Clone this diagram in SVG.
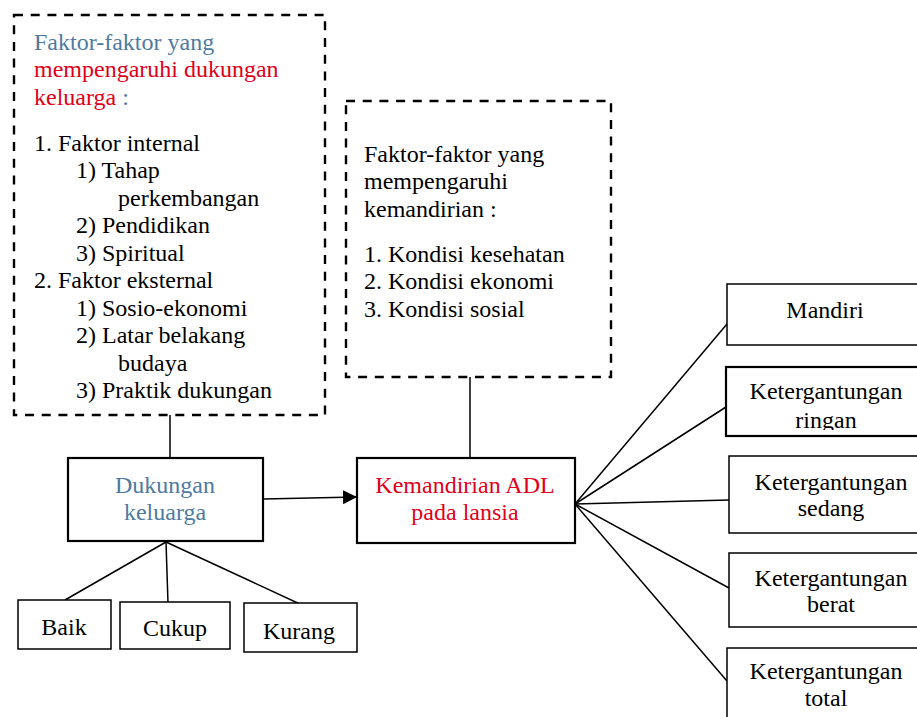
<svg xmlns="http://www.w3.org/2000/svg" width="917" height="717" viewBox="0 0 917 717">
<style>
text{font-family:"Liberation Serif","Times New Roman",serif;font-size:24px;fill:#000}
.c{text-anchor:middle}
.blue{fill:#4f7aa0}
.red{fill:#e0001b}
.dash{fill:none;stroke:#000;stroke-width:2.4;stroke-dasharray:9,7.7}
.box{fill:#fff;stroke:#000;stroke-width:1.5}
.bold{fill:#fff;stroke:#000;stroke-width:2.2}
.ln{stroke:#000;stroke-width:1.5;fill:none}
</style>
<defs>
<marker id="arr" markerWidth="14" markerHeight="14" refX="13" refY="7" orient="auto" markerUnits="userSpaceOnUse">
<path d="M0,0 L14,7 L0,14 Z" fill="#000"/>
</marker>
<clipPath id="ringClip"><rect x="726" y="367" width="200" height="63"/></clipPath>
</defs>
<rect width="917" height="717" fill="#fff"/>
<g id="connectors">
<line class="ln" x1="170" y1="415" x2="170" y2="458"/>
<line class="ln" x1="470" y1="377" x2="470" y2="458"/>
<line class="ln" x1="264" y1="499" x2="356" y2="497" marker-end="url(#arr)"/>
<line class="ln" x1="166" y1="542" x2="65" y2="600"/>
<line class="ln" x1="166" y1="542" x2="168" y2="603"/>
<line class="ln" x1="166" y1="542" x2="302" y2="605"/>
<line class="ln" x1="575" y1="504" x2="727" y2="324"/>
<line class="ln" x1="575" y1="504" x2="726" y2="407"/>
<line class="ln" x1="575" y1="504" x2="729" y2="500"/>
<line class="ln" x1="575" y1="504" x2="729" y2="588"/>
<line class="ln" x1="575" y1="504" x2="727" y2="681"/>
</g>
<g id="faktor-dukungan">
<rect class="dash" x="14" y="15" width="311" height="400"/>
<text x="34" y="49.5" class="blue">Faktor-faktor yang</text>
<text x="34" y="77" class="red">mempengaruhi dukungan</text>
<text x="34" y="104.5"><tspan class="red">keluarga</tspan><tspan class="blue"> :</tspan></text>
<text x="34" y="150.5">1. Faktor internal</text>
<text x="76" y="178">1) Tahap</text>
<text x="118" y="205.5">perkembangan</text>
<text x="76" y="233">2) Pendidikan</text>
<text x="76" y="260.5">3) Spiritual</text>
<text x="34" y="288">2. Faktor eksternal</text>
<text x="76" y="315.5">1) Sosio-ekonomi</text>
<text x="76" y="343">2) Latar belakang</text>
<text x="118" y="370.5">budaya</text>
<text x="76" y="398">3) Praktik dukungan</text>
</g>
<g id="faktor-kemandirian">
<rect class="dash" x="346" y="101" width="265" height="276"/>
<text x="364" y="161.5">Faktor-faktor yang</text>
<text x="364" y="189">mempengaruhi</text>
<text x="364" y="216.5">kemandirian :</text>
<text x="364" y="261.5">1. Kondisi kesehatan</text>
<text x="364" y="289">2. Kondisi ekonomi</text>
<text x="364" y="316.5">3. Kondisi sosial</text>
</g>
<g id="dukungan">
<rect class="bold" x="68" y="458" width="195" height="83"/>
<text x="165" y="493" class="c blue">Dukungan</text>
<text x="165" y="519.5" class="c blue">keluarga</text>
</g>
<g id="kemandirian">
<rect class="bold" x="357" y="458" width="218" height="85"/>
<text x="465" y="493" class="c red">Kemandirian ADL</text>
<text x="465" y="519.5" class="c red">pada lansia</text>
</g>
<g id="baik">
<rect class="box" x="18" y="600" width="93" height="49"/>
<text x="64" y="635" class="c">Baik</text>
</g>
<g id="cukup">
<rect class="box" x="120" y="602" width="110" height="47"/>
<text x="175" y="636" class="c">Cukup</text>
</g>
<g id="kurang">
<rect class="box" x="244" y="603" width="113" height="49"/>
<text x="299" y="639" class="c">Kurang</text>
</g>
<g id="mandiri">
<rect class="box" x="727" y="284" width="200" height="61"/>
<text x="825" y="318" class="c">Mandiri</text>
</g>
<g id="ringan">
<rect class="bold" x="726" y="367" width="200" height="69"/>
<g clip-path="url(#ringClip)">
<text x="826" y="399" class="c">Ketergantungan</text>
<text x="826" y="428" class="c">ringan</text>
</g>
</g>
<g id="sedang">
<rect class="box" x="729" y="456" width="200" height="77"/>
<text x="831" y="490" class="c">Ketergantungan</text>
<text x="831" y="516" class="c">sedang</text>
</g>
<g id="berat">
<rect class="box" x="729" y="553" width="200" height="74"/>
<text x="831" y="586" class="c">Ketergantungan</text>
<text x="831" y="612" class="c">berat</text>
</g>
<g id="total">
<rect class="box" x="727" y="648" width="200" height="80"/>
<text x="826" y="679" class="c">Ketergantungan</text>
<text x="826" y="706" class="c">total</text>
</g>
</svg>
